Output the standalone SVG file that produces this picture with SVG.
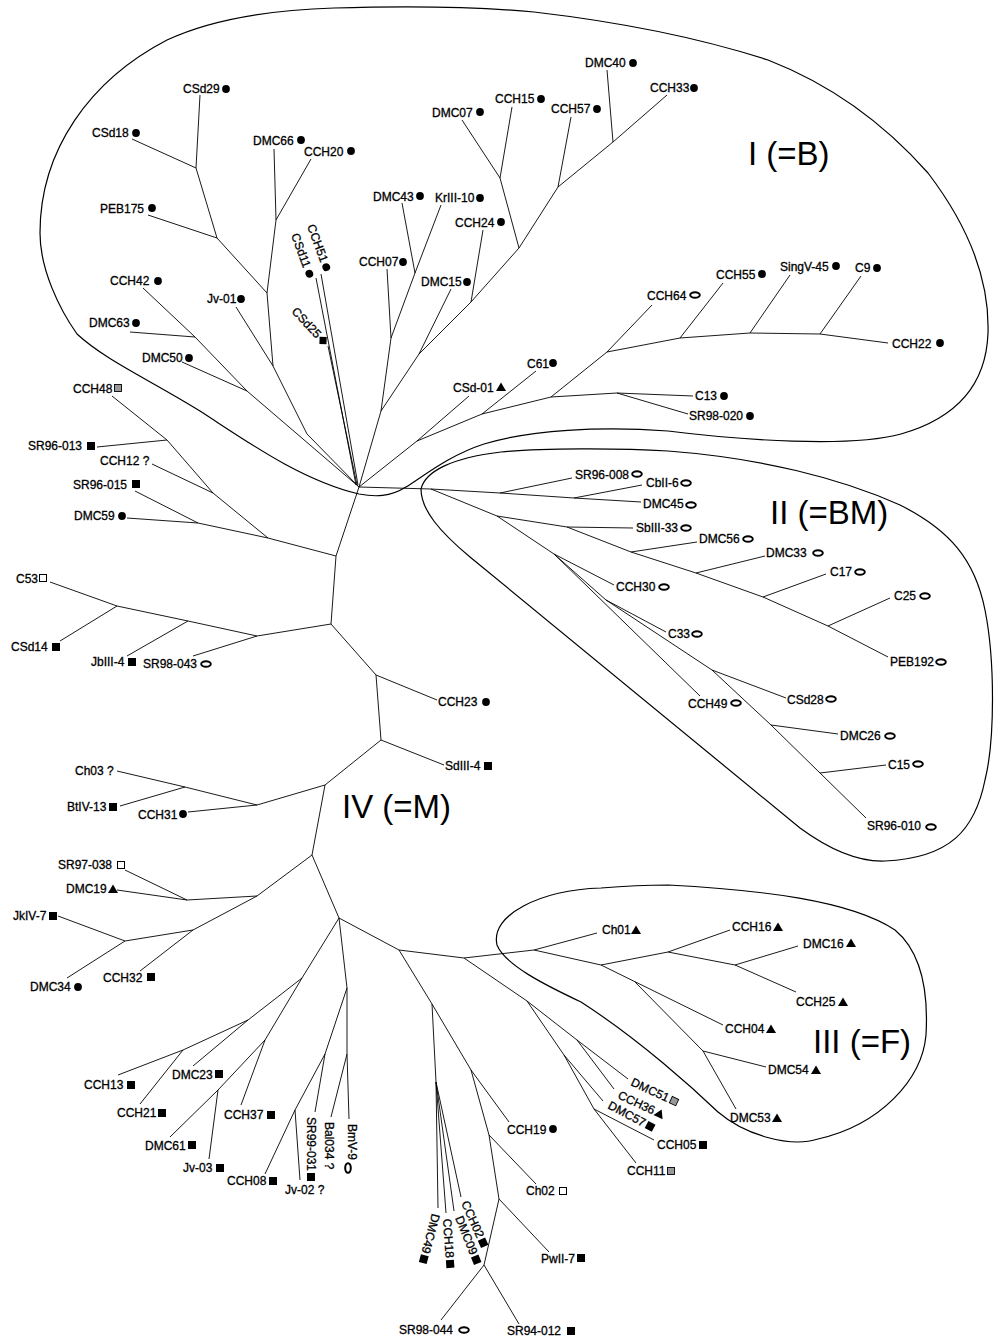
<svg xmlns="http://www.w3.org/2000/svg" width="1002" height="1336" viewBox="0 0 1002 1336">
<style>
.e{stroke:#000;stroke-width:0.9;fill:none;stroke-linejoin:round}
.b{stroke:#000;stroke-width:1.2;fill:none}
.t{font-family:"Liberation Sans",Arial,sans-serif;font-size:12px;fill:#000;stroke:#000;stroke-width:0.3}
.h{font-family:"Liberation Sans",Arial,sans-serif;font-size:33px;fill:#000}
</style>
<defs>
<circle id="dot" r="3.9" fill="#000"/>
<rect id="sq" x="-4" y="-4" width="8" height="8" fill="#000"/>
<rect id="osq" x="-3.5" y="-3.5" width="7" height="7" fill="#fff" stroke="#000" stroke-width="1"/>
<path id="tri" d="M0,-4.5 L5,4 L-5,4 Z" fill="#000"/>
<ellipse id="ell" rx="4.8" ry="2.8" fill="none" stroke="#000" stroke-width="2"/>
<rect id="hsq" x="-3.5" y="-3.5" width="7" height="7" fill="#999" stroke="#000" stroke-width="0.9"/>
<path id="dia" d="M0,-5 L5,0 L0,5 L-5,0 Z" fill="#000"/>
</defs>
<rect width="1002" height="1336" fill="#fff"/>

<g id="clusters">
<path class="b" d="M77,334 C60,310 40,270 40,233 C40,150 90,80 167,40 C210,20 270,10 334,8 C400,6 470,6 534,12 C620,22 700,38 768,60 C840,88 890,130 928,173 C960,215 990,270 988,333 C986,390 950,420 901,434 C850,448 740,440 668,431 C600,426 530,430 484,444 C450,455 425,475 406,487 C390,497 375,497 359,494 C300,480 245,440 200,411 C150,380 105,360 77,334 Z"/>
<path class="b" d="M421,489 C425,472 450,458 501,452 C540,448 620,448 668,451 C760,458 840,478 900,505 C950,530 975,560 985,610 C995,660 995,740 985,780 C975,830 950,858 885,861 C860,862 830,850 800,828 L470,557 C440,532 421,510 421,489 Z"/>
<path class="b" d="M668,885 C760,890 850,900 895,930 C925,955 928,1000 926,1035 C922,1080 880,1125 818,1139 C790,1148 745,1135 718,1112 C695,1090 640,1040 581,1002 C545,985 505,965 497,945 C490,915 540,890 601,888 C625,886 645,885 668,885 Z"/>
</g>

<g id="connectors">
<polyline class="e" points="200,95 196,168 132,139"/>
<polyline class="e" points="196,168 217,238 148,215"/>
<polyline class="e" points="217,238 267,293"/>
<polyline class="e" points="274,149 276,220 311,159"/>
<polyline class="e" points="276,220 267,293 273,366 236,307"/>
<polyline class="e" points="273,366 307,434 359,487"/>
<polyline class="e" points="143,288 195,337 130,332"/>
<polyline class="e" points="195,337 247,391 182,362"/>
<polyline class="e" points="247,391 359,487"/>
<polyline class="e" points="316,278 356,485"/>
<polyline class="e" points="321,274 358,485"/>
<polyline class="e" points="328,346 357,485"/>
<polyline class="e" points="402,203 415,273 441,205"/>
<polyline class="e" points="415,273 391,338 387,269"/>
<polyline class="e" points="391,338 381,411 359,487"/>
<polyline class="e" points="451,289 419,354 381,411"/>
<polyline class="e" points="419,354 471,302 483,230"/>
<polyline class="e" points="471,302 519,248 500,178 462,120"/>
<polyline class="e" points="500,178 512,107"/>
<polyline class="e" points="519,248 558,187 571,117"/>
<polyline class="e" points="558,187 613,142 607,70"/>
<polyline class="e" points="613,142 667,95"/>
<polyline class="e" points="359,487 417,441 469,396"/>
<polyline class="e" points="417,441 482,414 536,371"/>
<polyline class="e" points="482,414 551,397 617,393 693,396"/>
<polyline class="e" points="617,393 688,414"/>
<polyline class="e" points="551,397 607,352 652,305"/>
<polyline class="e" points="607,352 680,338 750,333 820,334 888,343"/>
<polyline class="e" points="680,338 723,283"/>
<polyline class="e" points="750,333 790,275"/>
<polyline class="e" points="820,334 861,276"/>

<polyline class="e" points="359,487 431,489 500,493 574,498 641,502"/>
<polyline class="e" points="500,493 572,478"/>
<polyline class="e" points="574,498 642,485"/>
<polyline class="e" points="431,489 497,516 567,527 633,528"/>
<polyline class="e" points="567,527 631,552 697,542"/>
<polyline class="e" points="631,552 696,573 763,597 828,626 888,657"/>
<polyline class="e" points="696,573 765,556"/>
<polyline class="e" points="763,597 826,574"/>
<polyline class="e" points="828,626 890,598"/>
<polyline class="e" points="497,516 554,554 614,585"/>
<polyline class="e" points="554,554 700,696"/>
<polyline class="e" points="554,554 606,600 666,632"/>
<polyline class="e" points="606,600 712,670 786,698"/>
<polyline class="e" points="712,670 771,725 820,773 866,818"/>
<polyline class="e" points="771,725 838,734"/>
<polyline class="e" points="820,773 886,765"/>

<polyline class="e" points="359,487 336,556 331,624 257,636 188,621 117,606 50,582"/>
<polyline class="e" points="117,606 60,641"/>
<polyline class="e" points="188,621 127,656"/>
<polyline class="e" points="257,636 193,656"/>
<polyline class="e" points="336,556 268,538 213,493 167,440 112,396"/>
<polyline class="e" points="167,440 97,447"/>
<polyline class="e" points="213,493 152,464"/>
<polyline class="e" points="268,538 198,523 135,491"/>
<polyline class="e" points="198,523 127,518"/>
<polyline class="e" points="331,624 376,675 437,700"/>
<polyline class="e" points="376,675 381,740 444,765"/>
<polyline class="e" points="381,740 325,785 257,805 185,787 117,771"/>
<polyline class="e" points="185,787 120,806"/>
<polyline class="e" points="257,805 188,812"/>
<polyline class="e" points="325,785 312,855 257,896 187,900 125,870"/>
<polyline class="e" points="187,900 117,890"/>
<polyline class="e" points="257,896 193,930 125,941 58,916"/>
<polyline class="e" points="125,941 67,978"/>
<polyline class="e" points="193,930 140,971"/>
<polyline class="e" points="312,855 339,918"/>
<polyline class="e" points="339,918 302,978 248,1020 183,1050 118,1075"/>
<polyline class="e" points="183,1050 140,1104"/>
<polyline class="e" points="248,1020 193,1066"/>
<polyline class="e" points="302,978 265,1040 218,1090 170,1137"/>
<polyline class="e" points="218,1090 209,1159"/>
<polyline class="e" points="265,1040 241,1105"/>
<polyline class="e" points="339,918 347,988 325,1054 295,1110 265,1174"/>
<polyline class="e" points="295,1110 300,1180"/>
<polyline class="e" points="325,1054 315,1112"/>
<polyline class="e" points="347,988 347,1054 331,1117"/>
<polyline class="e" points="347,1054 349,1119"/>
<polyline class="e" points="339,918 399,950 464,958 534,950 597,933"/>
<polyline class="e" points="399,950 432,1004 436,1082 438,1208"/>
<polyline class="e" points="436,1082 446,1213"/>
<polyline class="e" points="436,1082 454,1211"/>
<polyline class="e" points="436,1082 461,1197"/>
<polyline class="e" points="432,1004 471,1070 509,1122"/>
<polyline class="e" points="471,1070 489,1135 536,1184"/>
<polyline class="e" points="489,1135 499,1199 549,1252"/>
<polyline class="e" points="499,1199 484,1265 441,1320"/>
<polyline class="e" points="484,1265 519,1324"/>
<polyline class="e" points="464,958 527,1001 577,1040 628,1079"/>
<polyline class="e" points="577,1040 614,1089"/>
<polyline class="e" points="527,1001 564,1055 603,1101"/>
<polyline class="e" points="564,1055 594,1109 654,1140"/>
<polyline class="e" points="594,1109 636,1163"/>
<polyline class="e" points="534,950 601,965 668,952 730,930"/>
<polyline class="e" points="668,952 735,965 798,946"/>
<polyline class="e" points="735,965 796,992"/>
<polyline class="e" points="601,965 723,1025"/>
<polyline class="e" points="635,982 703,1051 766,1067"/>
<polyline class="e" points="703,1051 736,1109"/>
</g>

<g id="headings">
<text class="h" x="748" y="165">I (=B)</text>
<text class="h" x="770" y="524">II (=BM)</text>
<text class="h" x="342" y="818">IV (=M)</text>
<text class="h" x="813" y="1053">III (=F)</text>
</g>

<g id="n-CSd29"><text class="t" x="183" y="93">CSd29</text><use href="#dot" x="226" y="89"/></g>
<g id="n-CSd18"><text class="t" x="92" y="137">CSd18</text><use href="#dot" x="136" y="133"/></g>
<g id="n-PEB175"><text class="t" x="100" y="213">PEB175</text><use href="#dot" x="152" y="208"/></g>
<g id="n-DMC66"><text class="t" x="253" y="145">DMC66</text><use href="#dot" x="301" y="140"/></g>
<g id="n-CCH20"><text class="t" x="304" y="156">CCH20</text><use href="#dot" x="351" y="151"/></g>
<g id="n-CCH42"><text class="t" x="110" y="285">CCH42</text><use href="#dot" x="158" y="281"/></g>
<g id="n-Jv-01"><text class="t" x="207" y="303">Jv-01</text><use href="#dot" x="241" y="299"/></g>
<g id="n-DMC63"><text class="t" x="89" y="327">DMC63</text><use href="#dot" x="136" y="323"/></g>
<g id="n-DMC50"><text class="t" x="142" y="362">DMC50</text><use href="#dot" x="189" y="358"/></g>
<g id="n-CSd11" transform="translate(291,235) rotate(70)"><text class="t" x="0" y="0">CSd11</text><use href="#dot" x="42.7" y="-4"/></g>
<g id="n-CCH51" transform="translate(307,226) rotate(70)"><text class="t" x="0" y="0">CCH51</text><use href="#dot" x="45.3" y="-4"/></g>
<g id="n-CSd25" transform="translate(291,312) rotate(47)"><text class="t" x="0" y="0">CSd25</text><use href="#dia" x="42.7" y="-4"/></g>
<g id="n-DMC43"><text class="t" x="373" y="201">DMC43</text><use href="#dot" x="420" y="196"/></g>
<g id="n-KrIII-10"><text class="t" x="435" y="202">KrIII-10</text><use href="#dot" x="480" y="198"/></g>
<g id="n-CCH07"><text class="t" x="359" y="266">CCH07</text><use href="#dot" x="403" y="262"/></g>
<g id="n-DMC15"><text class="t" x="421" y="286">DMC15</text><use href="#dot" x="467" y="282"/></g>
<g id="n-CCH24"><text class="t" x="455" y="227">CCH24</text><use href="#dot" x="501" y="222"/></g>
<g id="n-DMC07"><text class="t" x="432" y="117">DMC07</text><use href="#dot" x="480" y="112"/></g>
<g id="n-CCH15"><text class="t" x="495" y="103">CCH15</text><use href="#dot" x="541" y="99"/></g>
<g id="n-CCH57"><text class="t" x="551" y="113">CCH57</text><use href="#dot" x="597" y="109"/></g>
<g id="n-DMC40"><text class="t" x="585" y="67">DMC40</text><use href="#dot" x="633" y="63"/></g>
<g id="n-CCH33"><text class="t" x="650" y="92">CCH33</text><use href="#dot" x="694" y="88"/></g>
<g id="n-CCH64"><text class="t" x="647" y="300">CCH64</text><use href="#ell" x="695" y="295"/></g>
<g id="n-CCH55"><text class="t" x="716" y="279">CCH55</text><use href="#dot" x="762" y="274"/></g>
<g id="n-SingV-45"><text class="t" x="780" y="271">SingV-45</text><use href="#dot" x="836" y="266"/></g>
<g id="n-C9"><text class="t" x="855" y="272">C9</text><use href="#dot" x="877" y="268"/></g>
<g id="n-CCH22"><text class="t" x="892" y="348">CCH22</text><use href="#dot" x="940" y="343"/></g>
<g id="n-C61"><text class="t" x="527" y="368">C61</text><use href="#dot" x="553" y="363"/></g>
<g id="n-CSd-01"><text class="t" x="453" y="392">CSd-01</text><use href="#tri" x="501" y="387"/></g>
<g id="n-C13"><text class="t" x="695" y="400">C13</text><use href="#dot" x="724" y="396"/></g>
<g id="n-SR98-020"><text class="t" x="689" y="420">SR98-020</text><use href="#dot" x="750" y="416"/></g>

<g id="n-SR96-008"><text class="t" x="575" y="479">SR96-008</text><use href="#ell" x="637" y="474"/></g>
<g id="n-CbII-6"><text class="t" x="646" y="487">CbII-6</text><use href="#ell" x="686" y="483"/></g>
<g id="n-DMC45"><text class="t" x="643" y="508">DMC45</text><use href="#ell" x="691" y="505"/></g>
<g id="n-SbIII-33"><text class="t" x="636" y="532">SbIII-33</text><use href="#ell" x="686" y="528"/></g>
<g id="n-DMC56"><text class="t" x="699" y="543">DMC56</text><use href="#ell" x="748" y="539"/></g>
<g id="n-DMC33"><text class="t" x="766" y="557">DMC33</text><use href="#ell" x="818" y="553"/></g>
<g id="n-C17"><text class="t" x="830" y="576">C17</text><use href="#ell" x="860" y="572"/></g>
<g id="n-C25"><text class="t" x="894" y="600">C25</text><use href="#ell" x="925" y="596"/></g>
<g id="n-PEB192"><text class="t" x="890" y="666">PEB192</text><use href="#ell" x="941" y="662"/></g>
<g id="n-CCH30"><text class="t" x="616" y="591">CCH30</text><use href="#ell" x="664" y="587"/></g>
<g id="n-C33"><text class="t" x="668" y="638">C33</text><use href="#ell" x="697" y="634"/></g>
<g id="n-CCH49"><text class="t" x="688" y="708">CCH49</text><use href="#ell" x="736" y="703"/></g>
<g id="n-CSd28"><text class="t" x="787" y="704">CSd28</text><use href="#ell" x="831" y="699"/></g>
<g id="n-DMC26"><text class="t" x="840" y="740">DMC26</text><use href="#ell" x="890" y="736"/></g>
<g id="n-C15"><text class="t" x="888" y="769">C15</text><use href="#ell" x="918" y="764"/></g>
<g id="n-SR96-010"><text class="t" x="867" y="830">SR96-010</text><use href="#ell" x="931" y="827"/></g>

<g id="n-CCH48"><text class="t" x="73" y="393">CCH48</text><use href="#hsq" x="118" y="388"/></g>
<g id="n-SR96-013"><text class="t" x="28" y="450">SR96-013</text><use href="#sq" x="91" y="446"/></g>
<g id="n-CCH12"><text class="t" x="100" y="465">CCH12 ?</text></g>
<g id="n-SR96-015"><text class="t" x="73" y="489">SR96-015</text><use href="#sq" x="136" y="484"/></g>
<g id="n-DMC59"><text class="t" x="74" y="520">DMC59</text><use href="#dot" x="122" y="516"/></g>
<g id="n-C53"><text class="t" x="16" y="583">C53</text><use href="#osq" x="43" y="578"/></g>
<g id="n-CSd14"><text class="t" x="11" y="651">CSd14</text><use href="#sq" x="56" y="647"/></g>
<g id="n-JbIII-4"><text class="t" x="91" y="666">JbIII-4</text><use href="#sq" x="132" y="662"/></g>
<g id="n-SR98-043"><text class="t" x="143" y="668">SR98-043</text><use href="#ell" x="206" y="664"/></g>
<g id="n-CCH23"><text class="t" x="438" y="706">CCH23</text><use href="#dot" x="486" y="702"/></g>
<g id="n-SdIII-4"><text class="t" x="445" y="770">SdIII-4</text><use href="#sq" x="488" y="766"/></g>
<g id="n-Ch03"><text class="t" x="75" y="775">Ch03 ?</text></g>
<g id="n-BtIV-13"><text class="t" x="67" y="811">BtIV-13</text><use href="#sq" x="113" y="807"/></g>
<g id="n-CCH31"><text class="t" x="138" y="819">CCH31</text><use href="#dot" x="183" y="814"/></g>
<g id="n-SR97-038"><text class="t" x="58" y="869">SR97-038</text><use href="#osq" x="121" y="865"/></g>
<g id="n-DMC19"><text class="t" x="66" y="893">DMC19</text><use href="#tri" x="113" y="889"/></g>
<g id="n-JkIV-7"><text class="t" x="13" y="920">JkIV-7</text><use href="#sq" x="53" y="916"/></g>
<g id="n-DMC34"><text class="t" x="30" y="991">DMC34</text><use href="#dot" x="78" y="987"/></g>
<g id="n-CCH32"><text class="t" x="103" y="982">CCH32</text><use href="#sq" x="151" y="977"/></g>

<g id="n-CCH13"><text class="t" x="84" y="1089">CCH13</text><use href="#sq" x="131" y="1085"/></g>
<g id="n-CCH21"><text class="t" x="117" y="1117">CCH21</text><use href="#sq" x="162" y="1113"/></g>
<g id="n-DMC23"><text class="t" x="172" y="1079">DMC23</text><use href="#sq" x="219" y="1074"/></g>
<g id="n-DMC61"><text class="t" x="145" y="1150">DMC61</text><use href="#sq" x="192" y="1145"/></g>
<g id="n-Jv-03"><text class="t" x="183" y="1172">Jv-03</text><use href="#sq" x="220" y="1168"/></g>
<g id="n-CCH37"><text class="t" x="224" y="1119">CCH37</text><use href="#sq" x="271" y="1115"/></g>
<g id="n-CCH08"><text class="t" x="227" y="1185">CCH08</text><use href="#sq" x="273" y="1181"/></g>
<g id="n-Jv-02"><text class="t" x="285" y="1194">Jv-02 ?</text></g>
<g id="n-SR99-031" transform="translate(307,1117) rotate(90)"><text class="t" x="0" y="0">SR99-031</text><use href="#sq" x="60" y="-4"/></g>
<g id="n-Bal034" transform="translate(325,1122) rotate(90)"><text class="t" x="0" y="0">Bal034 ?</text></g>
<g id="n-BmV-9" transform="translate(348,1124) rotate(90)"><text class="t" x="0" y="0">BmV-9</text><use href="#ell" x="44" y="0"/></g>

<g id="n-DMC49" transform="translate(432,1213) rotate(105)"><text class="t" x="0" y="0">DMC49</text><use href="#sq" x="46.7" y="-4"/></g>
<g id="n-CCH18" transform="translate(443,1219) rotate(86)"><text class="t" x="0" y="0">CCH18</text><use href="#sq" x="45.3" y="-4"/></g>
<g id="n-DMC09" transform="translate(455,1218) rotate(68)"><text class="t" x="0" y="0">DMC09</text><use href="#sq" x="46.7" y="-4"/></g>
<g id="n-CCH02" transform="translate(461,1203) rotate(66)"><text class="t" x="0" y="0">CCH02</text><use href="#sq" x="45.3" y="-4"/></g>
<g id="n-CCH19"><text class="t" x="507" y="1134">CCH19</text><use href="#dot" x="553" y="1129"/></g>
<g id="n-Ch02"><text class="t" x="526" y="1195">Ch02</text><use href="#osq" x="563" y="1191"/></g>
<g id="n-PwII-7"><text class="t" x="541" y="1263">PwII-7</text><use href="#sq" x="581" y="1258"/></g>
<g id="n-SR98-044"><text class="t" x="399" y="1334">SR98-044</text><use href="#ell" x="464" y="1330"/></g>
<g id="n-SR94-012"><text class="t" x="507" y="1335">SR94-012</text><use href="#sq" x="571" y="1331"/></g>

<g id="n-DMC51" transform="translate(630,1085) rotate(25)"><text class="t" x="0" y="0">DMC51</text><use href="#hsq" x="46.7" y="-4"/></g>
<g id="n-CCH36" transform="translate(617,1098) rotate(25)"><text class="t" x="0" y="0">CCH36</text><use href="#tri" x="45.3" y="-4"/></g>
<g id="n-DMC57" transform="translate(607,1108) rotate(28)"><text class="t" x="0" y="0">DMC57</text><use href="#sq" x="46.7" y="-4"/></g>
<g id="n-CCH05"><text class="t" x="657" y="1149">CCH05</text><use href="#sq" x="703" y="1145"/></g>
<g id="n-CCH11"><text class="t" x="627" y="1175">CCH11</text><use href="#hsq" x="671" y="1171"/></g>

<g id="n-Ch01"><text class="t" x="602" y="934">Ch01</text><use href="#tri" x="636" y="930"/></g>
<g id="n-CCH16"><text class="t" x="732" y="931">CCH16</text><use href="#tri" x="778" y="927"/></g>
<g id="n-DMC16"><text class="t" x="803" y="948">DMC16</text><use href="#tri" x="851" y="943"/></g>
<g id="n-CCH25"><text class="t" x="796" y="1006">CCH25</text><use href="#tri" x="843" y="1002"/></g>
<g id="n-CCH04"><text class="t" x="725" y="1033">CCH04</text><use href="#tri" x="771" y="1029"/></g>
<g id="n-DMC54"><text class="t" x="768" y="1074">DMC54</text><use href="#tri" x="816" y="1070"/></g>
<g id="n-DMC53"><text class="t" x="730" y="1122">DMC53</text><use href="#tri" x="777" y="1118"/></g>
</svg>
